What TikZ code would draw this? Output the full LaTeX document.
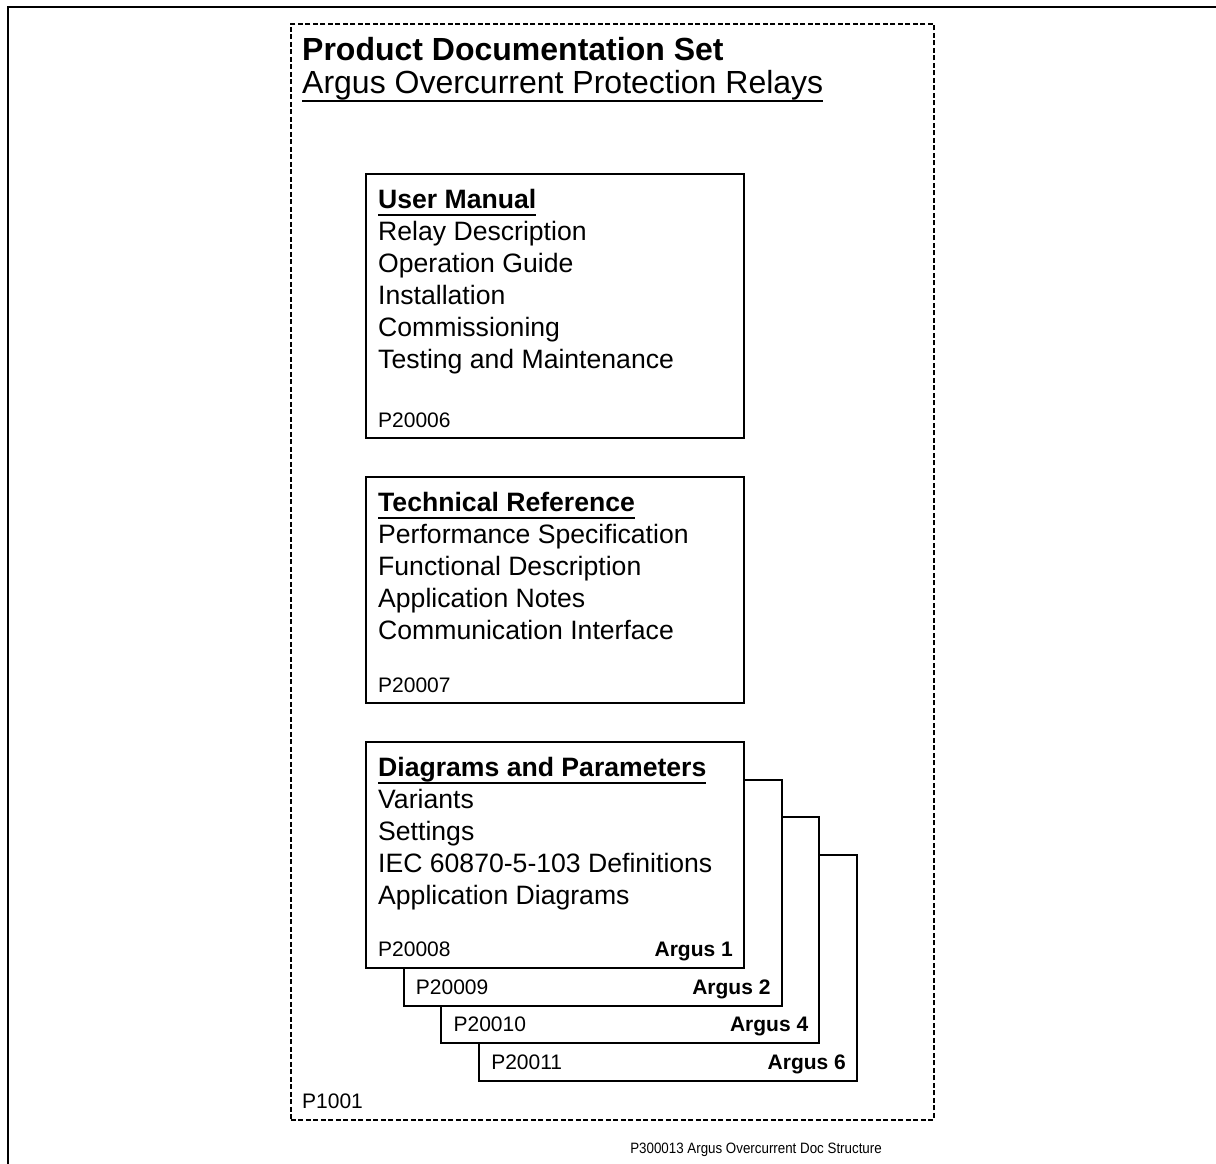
\documentclass[tikz,border=0pt]{standalone}
\usepackage{fontspec}
\setmainfont{Liberation Sans}
\newcommand\ulin[1]{\setbox0\hbox{#1}\rlap{\rule[-0.29em]{\wd0}{0.075em}}\box0}
\begin{document}
\begin{tikzpicture}[x=1pt,y=-1pt,
  frameline/.style={line width=2.6pt},
  setbox/.style={draw, line width=1.6pt, dash pattern=on 5pt off 2.5pt},
  docbox/.style={draw, fill=white, line width=2pt, anchor=north west, inner sep=0pt, outer sep=0pt, minimum width=378pt, minimum height=#1},
  bodytxt/.style={anchor=base west, inner sep=0pt, font=\fontsize{26.6}{32}\selectfont},
  headtxt/.style={anchor=base west, inner sep=0pt, font=\fontsize{26.6}{32}\selectfont\bfseries},
  smalltxt/.style={anchor=base west, inner sep=0pt, font=\fontsize{21}{25}\selectfont},
  smallbold/.style={anchor=base east, inner sep=0pt, font=\fontsize{21}{25}\selectfont\bfseries}]
\useasboundingbox (0,0) rectangle (1216,1164);
% outer frame (only top and left edges visible)
\coordinate (fbl) at (8,1170);
\coordinate (ftl) at (8,7);
\coordinate (ftr) at (1222,7);
\draw[frameline] (fbl) -- (ftl) -- (ftr);
% dashed documentation set
\node[setbox, anchor=north west, inner sep=0pt, minimum width=643pt, minimum height=1096pt] (set) at (290,23) {};
\node[anchor=base west, inner sep=0pt, font=\fontsize{32}{38}\selectfont\bfseries] (title) at (302,61) {Product Documentation Set};
\node[anchor=base west, inner sep=0pt, font=\fontsize{32}{38}\selectfont] (subtitle) at (302,93) {\ulin{Argus Overcurrent Protection Relays}};
\node[smalltxt] (p1001) at (302,1108) {P1001};
% User Manual
\node[docbox=264pt] (um) at (366,174) {};
\node[headtxt] (umh) at (378,208) {\ulin{User Manual}};
\foreach \t [count=\i] in {Relay Description, Operation Guide, Installation, Commissioning, Testing and Maintenance}
  \node[bodytxt] (um\i) at (378,{208+32*\i}) {\t};
\node[smalltxt] (umn) at (378,427) {P20006};
% Technical Reference
\node[docbox=226pt] (tr) at (366,477) {};
\node[headtxt] (trh) at (378,511) {\ulin{Technical Reference}};
\foreach \t [count=\i] in {Performance Specification, Functional Description, Application Notes, Communication Interface}
  \node[bodytxt] (tr\i) at (378,{511+32*\i}) {\t};
\node[smalltxt] (trn) at (378,692) {P20007};
% Diagrams and Parameters stack (back to front)
\foreach \k/\num/\arg in {3/P20011/Argus 6, 2/P20010/Argus 4, 1/P20009/Argus 2, 0/P20008/Argus 1} {
  \node[docbox=226pt] (dp\k) at ({366+37.7*\k},{742+37.7*\k}) {};
  \node[smalltxt] (dpn\k) at ({378+37.7*\k},{956.5+37.7*\k}) {\num};
  \node[smallbold] (dpa\k) at ({733+37.7*\k},{956.5+37.7*\k}) {\arg};
}
\node[headtxt] (dph) at (378,776) {\ulin{Diagrams and Parameters}};
\foreach \t [count=\i] in {Variants, Settings, IEC 60870-5-103 Definitions, Application Diagrams}
  \node[bodytxt] (dp\i x) at (378,{776+32*\i}) {\t};
% footer
\node[anchor=base east, inner sep=0pt, font=\fontsize{15}{18}\selectfont] (foot) at (882,1153) {\scalebox{0.89}[1]{P300013 Argus Overcurrent Doc Structure}};
\end{tikzpicture}
\end{document}
